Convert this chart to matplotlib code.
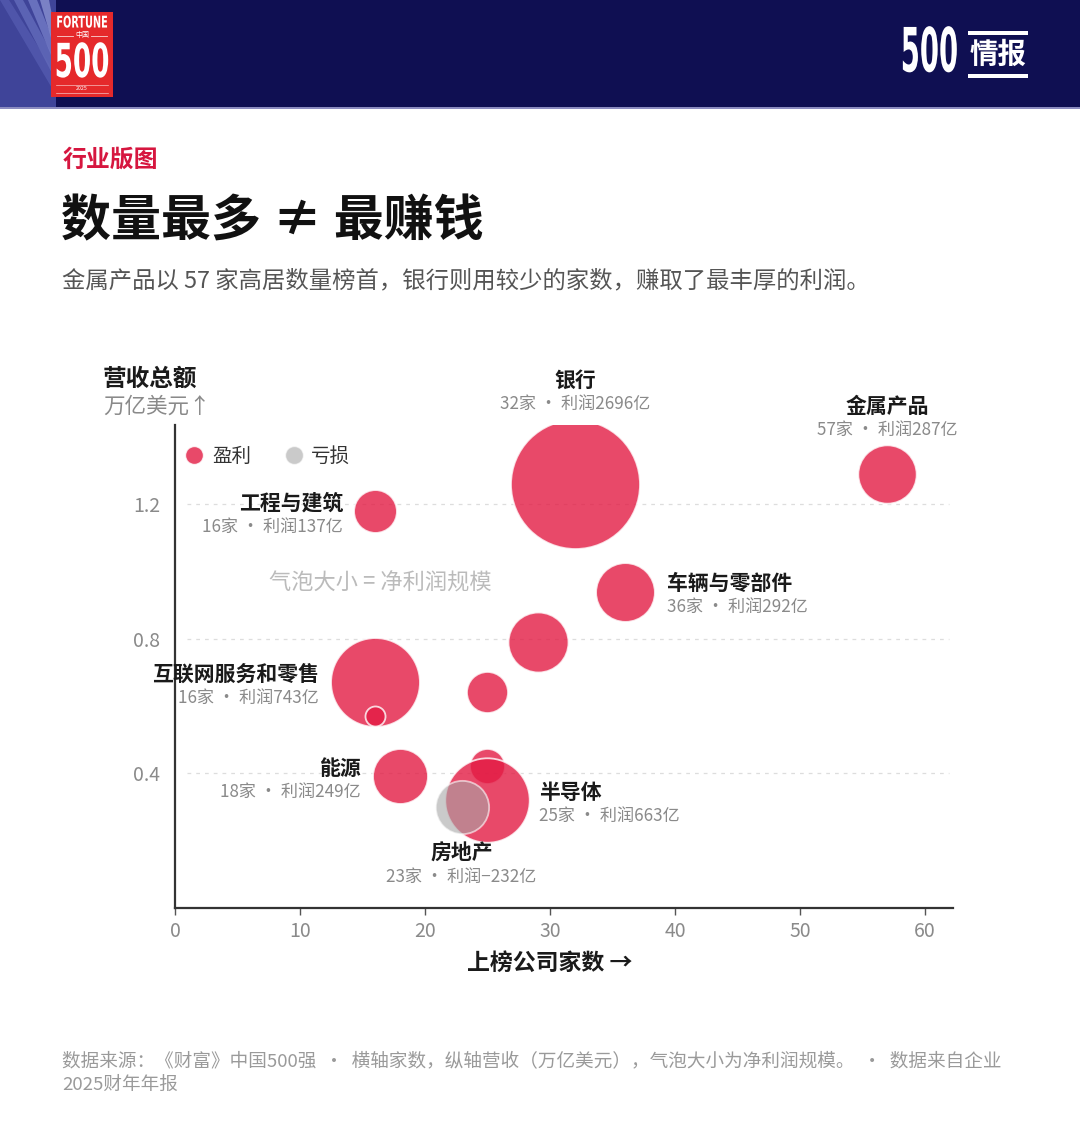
import numpy as np
import matplotlib
matplotlib.use("Agg")
import matplotlib.pyplot as plt
from matplotlib.patches import Rectangle, Polygon
from matplotlib.lines import Line2D
from matplotlib.patheffects import AbstractPathEffect
from matplotlib.transforms import Affine2D

plt.rcParams['font.family'] = ['Noto Sans CJK SC', 'DejaVu Sans']

# ---------------- data ----------------
names = ['工程与建筑', '银行', '金属产品', '车辆与零部件', '', '', '互联网服务和零售', '',
         '能源', '', '半导体', '房地产']
counts = [16, 32, 57, 36, 29, 25, 16, 16, 18, 25, 25, 23]
revenue = [1.18, 1.26, 1.29, 0.94, 0.79, 0.64, 0.67, 0.57, 0.39, 0.42, 0.32, 0.30]
profit = [137, 2696, 287, 292, 306, 123, 743, 16, 249, 82, 663, -232]

x_ticks = [0, 10, 20, 30, 40, 50, 60]
y_ticks = [0.4, 0.8, 1.2]

# label layout: offsets (px) of name / sub line relative to bubble centre, alignment
label_layout = {
    '银行': (0, -104, -80, 'center'),
    '金属产品': (0, -68, -44, 'center'),
    '工程与建筑': (-32, -8, 16, 'right'),
    '车辆与零部件': (42, -8, 15, 'left'),
    '互联网服务和零售': (-56, -8, 16, 'right'),
    '能源': (-39, -8, 16, 'right'),
    '半导体': (52, -7, 16, 'left'),
    '房地产': (-1, 46, 70, 'center'),
}

W, H = 1080, 1131
DPI = 100
PT = 72.0 / DPI  # points per pixel

RED = '#E31B44'
GREY = '#A8A8A8'


class Squeeze(AbstractPathEffect):
    """Rescale glyph outlines about a given point (display px)."""

    def __init__(self, sx, sy, cx, cy):
        super().__init__()
        self.sx, self.sy, self.cx, self.cy = sx, sy, cx, cy

    def draw_path(self, renderer, gc, tpath, affine, rgbFace=None):
        t = affine + (Affine2D().translate(-self.cx, -self.cy)
                      .scale(self.sx, self.sy).translate(self.cx, self.cy))
        renderer.draw_path(gc, tpath, t, rgbFace)


fig = plt.figure(figsize=(W / DPI, H / DPI), dpi=DPI)
fig.patch.set_facecolor('white')


def fx(x):
    return x / W


def fy(y):
    return 1 - y / H


# ---------------- header ----------------
fig.add_artist(Rectangle((0, fy(107)), 1, 107 / H, transform=fig.transFigure,
                         facecolor='#0F0F52', edgecolor='none', zorder=0))
fig.add_artist(Rectangle((0, fy(109)), 1, 2 / H, transform=fig.transFigure,
                         facecolor='#8C8CC0', edgecolor='none', zorder=0))
fig.add_artist(Polygon([(fx(0), fy(0)), (fx(56), fy(0)), (fx(56), fy(107)), (fx(0), fy(107))],
                       closed=True, transform=fig.transFigure, facecolor='#3F4499',
                       edgecolor='none', zorder=0.5))
for x0, col in [(0, '#5259AE'), (14, '#6169B9'), (28, '#7078C4'), (40, '#858CCE')]:
    fig.add_artist(Polygon([(fx(x0), fy(0)), (fx(x0 + 9), fy(0)), (fx(56), fy(75 - x0)),
                            (fx(56), fy(95 - x0))],
                           closed=True, transform=fig.transFigure, facecolor=col,
                           edgecolor='none', alpha=0.85, zorder=0.6))
# Fortune logo
fig.add_artist(Rectangle((fx(51), fy(97)), 62 / W, 85 / H, transform=fig.transFigure,
                         facecolor='#E5292B', edgecolor='none', zorder=1))
fig.text(fx(82), fy(23), 'FORTUNE', color='white', fontsize=9, fontweight='bold',
         family='DejaVu Sans', ha='center', va='center', zorder=2,
         path_effects=[Squeeze(0.78, 1.3, 82, H - 23)])
fig.text(fx(82), fy(35.5), '中国', color='white', fontsize=5, ha='center', va='center', zorder=2)
for xa, xb in ((57, 73), (91, 107)):
    fig.add_artist(Line2D([fx(xa), fx(xb)], [fy(35.5), fy(35.5)], transform=fig.transFigure,
                          color='white', lw=0.6, alpha=0.8, zorder=2))
fig.text(fx(82), fy(64.5), '500', color='white', fontsize=27, fontweight='bold',
         family='DejaVu Sans', ha='center', va='center', zorder=2,
         path_effects=[Squeeze(0.7, 1.25, 82, H - 64.5)])
fig.text(fx(82), fy(89), '2025', color='white', fontsize=3.8, ha='center', va='center', zorder=2)
for yy in (85, 93):
    fig.add_artist(Line2D([fx(56), fx(108)], [fy(yy), fy(yy)], transform=fig.transFigure,
                          color='white', lw=0.5, alpha=0.7, zorder=2))
# 500 情报
fig.text(fx(958), fy(55), '500', color='white', fontsize=44, fontweight='bold',
         family='DejaVu Sans', ha='right', va='center', zorder=2,
         path_effects=[Squeeze(0.45, 1.0, 958, H - 55)])
fig.text(fx(998), fy(55), '情报', color='white', fontsize=20.5, fontweight='bold',
         ha='center', va='center', zorder=2)
for yy in (33, 76):
    fig.add_artist(Rectangle((fx(968), fy(yy + 1.5)), 60 / W, 3 / H, transform=fig.transFigure,
                             facecolor='white', edgecolor='none', zorder=2))

# ---------------- titles ----------------
fig.text(fx(63), fy(160), '行业版图', color='#D6163F', fontsize=17.2, fontweight='bold',
         ha='left', va='center')
fig.text(fx(61), fy(222), '数量最多 ≠ 最赚钱', color='#111111', fontsize=36,
         fontweight='black', ha='left', va='center')
fig.text(fx(62), fy(281), '金属产品以 57 家高居数量榜首，银行则用较少的家数，赚取了最丰厚的利润。',
         color='#555555', fontsize=16.8, ha='left', va='center')

fig.text(fx(103), fy(379), '营收总额', color='#1A1A1A', fontsize=17, fontweight='bold',
         ha='left', va='center')
fig.text(fx(103), fy(407), '万亿美元↑', color='#8A8A8A', fontsize=15.5, ha='left', va='center')

# ---------------- axes ----------------
ax_l, ax_r, ax_t, ax_b = 175, 953, 425, 907.5
ax = fig.add_axes([fx(ax_l), fy(ax_b), (ax_r - ax_l) / W, (ax_b - ax_t) / H])
ax.set_facecolor('none')
xmax = (ax_r - ax_l) / 12.5
ax.set_xlim(0, xmax)
ax.set_ylim(0, (ax_b - ax_t) / 336.0)

for s in ('top', 'right'):
    ax.spines[s].set_visible(False)
for s in ('left', 'bottom'):
    ax.spines[s].set_color('#333333')
    ax.spines[s].set_linewidth(1.6)

ax.set_xticks(x_ticks)
ax.set_xticklabels([str(v) for v in x_ticks])
ax.set_yticks(y_ticks)
ax.set_yticklabels([f'{v:.1f}' for v in y_ticks])
ax.tick_params(axis='x', length=5, width=1, color='#555555', labelcolor='#8A8A8A',
               labelsize=14, pad=5)
ax.tick_params(axis='y', length=0, labelcolor='#8A8A8A', labelsize=14, pad=10.5)

for yv in y_ticks:
    ax.axhline(yv, xmin=0.015, xmax=0.995, color='#DDDDDD', lw=0.9,
               linestyle=(0, (3, 4)), zorder=0)

ax.set_xlabel('上榜公司家数 →', fontsize=16.5, fontweight='bold', color='#1A1A1A')
ax.xaxis.set_label_coords(30 / xmax, -(963 - ax_b) / (ax_b - ax_t))
ax.xaxis.label.set_va('center')

# bubbles
def radius_px(p):
    return min(4.1 + 1.48 * np.sqrt(abs(p)), 64.5)


for i, (c, r, p) in enumerate(zip(counts, revenue, profit)):
    rp = radius_px(p)
    s = (2 * rp * PT) ** 2
    if p >= 0:
        ax.scatter([c], [r], s=s, color=RED, alpha=0.8, edgecolors='white',
                   linewidths=1.3, zorder=3 + i * 0.01)
    else:
        ax.scatter([c], [r], s=s, color=GREY, alpha=0.6, edgecolors='white',
                   linewidths=1.3, zorder=3 + i * 0.01)

# labels
for n, c, r, p in zip(names, counts, revenue, profit):
    if not n:
        continue
    dx, dy1, dy2, ha = label_layout[n]
    sub = f'{c}家 · 利润{p}亿' if p >= 0 else f'{c}家 · 利润−{abs(p)}亿'
    ax.annotate(n, xy=(c, r), xytext=(dx * PT, -dy1 * PT), textcoords='offset points',
                ha=ha, va='center', fontsize=15, fontweight='bold', color='#1A1A1A',
                zorder=10)
    ax.annotate(sub, xy=(c, r), xytext=(dx * PT, -dy2 * PT), textcoords='offset points',
                ha=ha, va='center', fontsize=12.3, color='#8A8A8A', zorder=10)

ax.text(16.4, 0.966, '气泡大小 = 净利润规模', ha='center', va='center', fontsize=16,
        color='#BBBBBB', zorder=2)

# legend
handles = [Line2D([], [], marker='o', linestyle='none', markersize=13, markerfacecolor=RED,
                  markeredgecolor='white', alpha=0.8, label='盈利'),
           Line2D([], [], marker='o', linestyle='none', markersize=13, markerfacecolor=GREY,
                  markeredgecolor='white', alpha=0.6, label='亏损')]
leg = ax.legend(handles=handles, loc='center left', bbox_to_anchor=(0.0, 0.935), ncol=2,
                frameon=False, fontsize=14, handletextpad=0.3, columnspacing=1.6,
                borderaxespad=0, handlelength=1.2)
for t in leg.get_texts():
    t.set_color('#333333')

# ---------------- footer ----------------
fig.text(fx(62), fy(1061),
         '数据来源：《财富》中国500强  ·  横轴家数，纵轴营收（万亿美元），气泡大小为净利润规模。  ·  数据来自企业',
         color='#9A9A9A', fontsize=13.4, ha='left', va='center')
fig.text(fx(62), fy(1085), '2025财年年报', color='#9A9A9A', fontsize=13.4, ha='left', va='center')

fig.savefig('out.png', dpi=DPI, facecolor='white')
